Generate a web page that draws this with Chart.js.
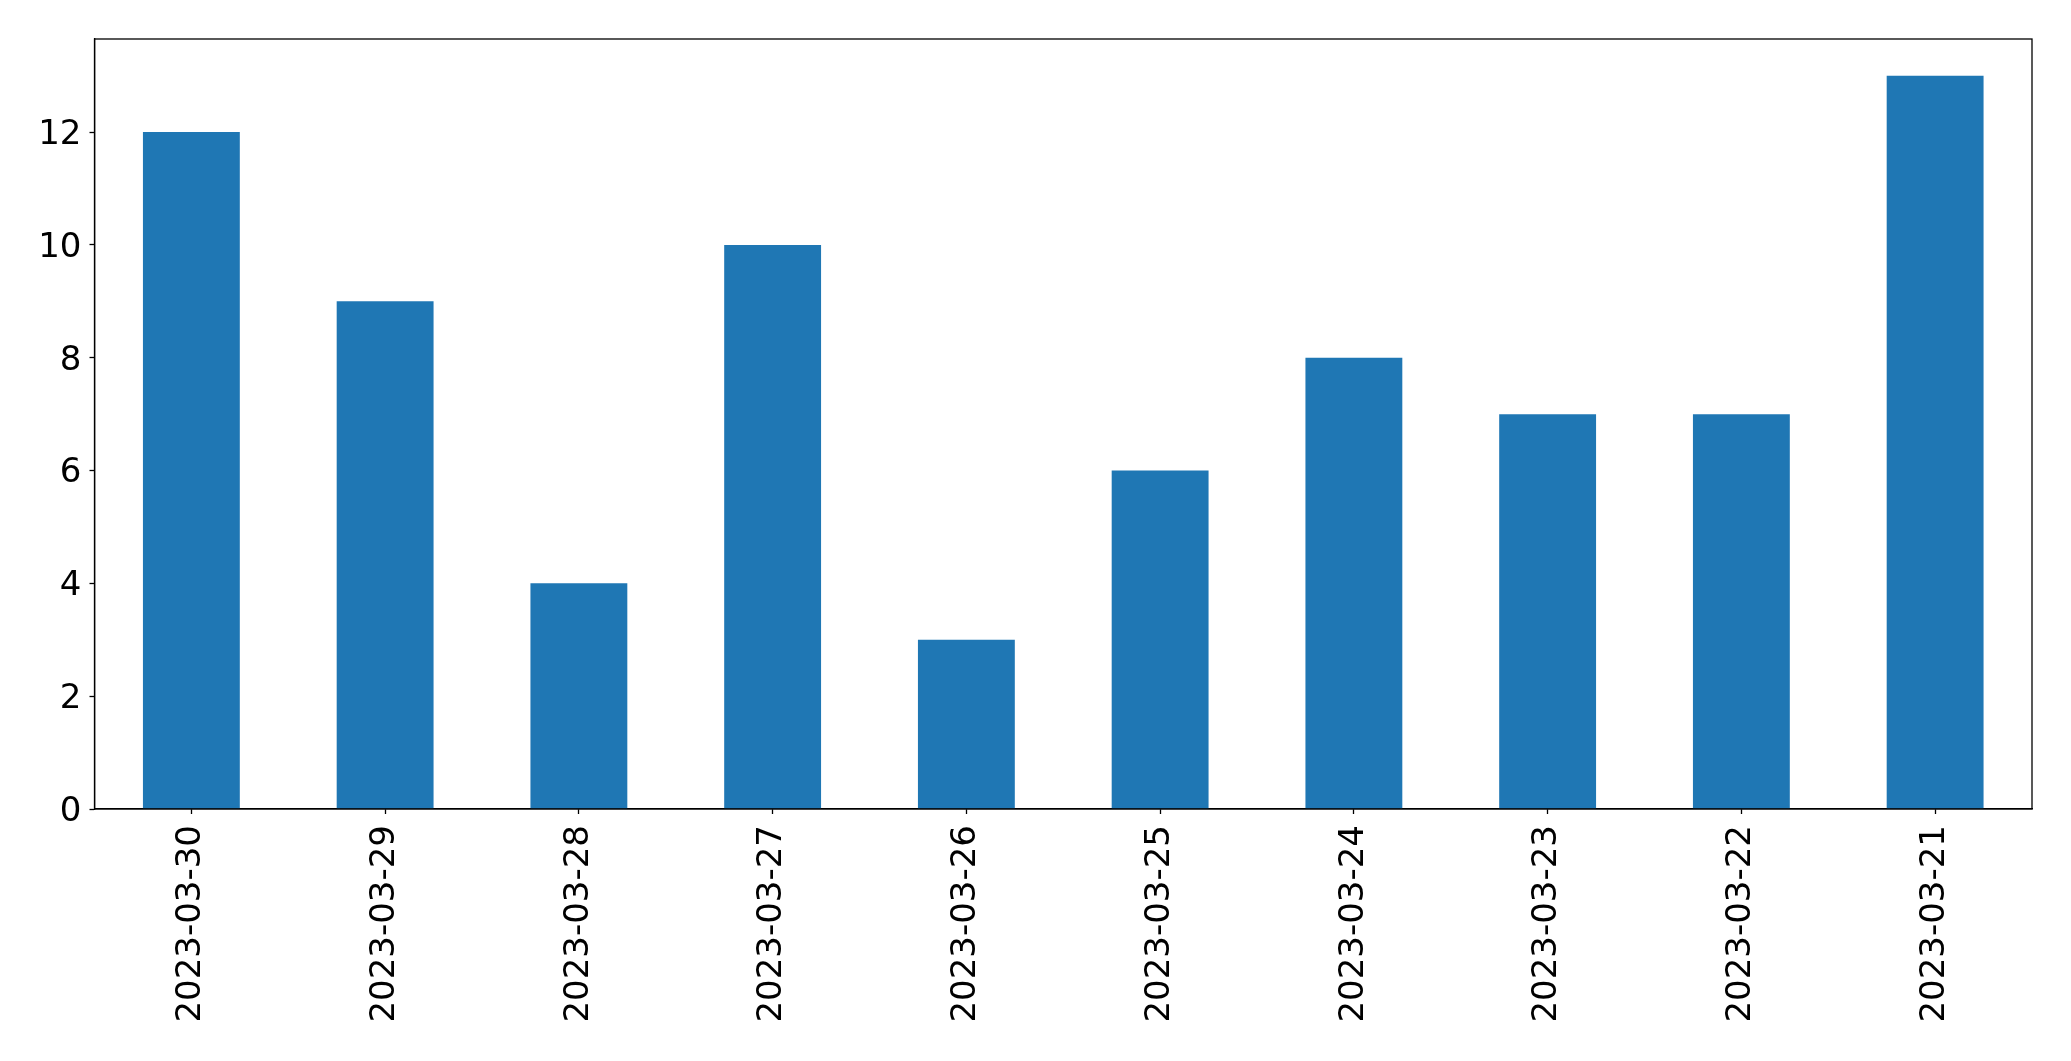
<!DOCTYPE html>
<html>
<head>
<meta charset="utf-8">
<script src="https://cdn.jsdelivr.net/npm/chart.js@4/dist/chart.umd.min.js"></script>
<style>
  html, body { margin: 0; padding: 0; background: #fff; }
  #wrap { width: 2071px; height: 1061px; }
</style>
</head>
<body>
<div id="wrap"><canvas id="c" width="2071" height="1061"></canvas></div>
<script>
const categories = ["2023-03-30","2023-03-29","2023-03-28","2023-03-27","2023-03-26","2023-03-25","2023-03-24","2023-03-23","2023-03-22","2023-03-21"];
const values = [12, 9, 4, 10, 3, 6, 8, 7, 7, 13];
const yTicks = [0, 2, 4, 6, 8, 10, 12];
const yMax = 13.65;

const frame = {
  id: 'frame',
  afterDraw(chart) {
    const a = chart.chartArea, ctx = chart.ctx;
    ctx.save();
    ctx.strokeStyle = '#000';
    ctx.lineWidth = 1.3;
    ctx.strokeRect(a.left, a.top, a.right - a.left, a.bottom - a.top);
    ctx.restore();
  }
};

new Chart(document.getElementById('c'), {
  type: 'bar',
  data: {
    labels: categories,
    datasets: [{
      data: values,
      backgroundColor: '#1f77b4',
      borderWidth: 0,
      categoryPercentage: 0.5,
      barPercentage: 1.0
    }]
  },
  options: {
    responsive: false,
    animation: false,
    devicePixelRatio: 1,
    layout: { padding: { top: 39, right: 39, left: 0, bottom: 0 } },
    plugins: { legend: { display: false }, tooltip: { enabled: false } },
    scales: {
      x: {
        offset: true,
        grid: { display: true, offset: false, drawOnChartArea: false, drawTicks: true, tickLength: 5, tickColor: '#000', tickWidth: 1.3 },
        border: { display: true, color: '#000', width: 1.3 },
        ticks: {
          color: '#000',
          font: { family: 'DejaVu Sans', size: 34 },
          minRotation: 90, maxRotation: 90,
          padding: 11,
          autoSkip: false
        },
        afterFit(s) { s.height = 252; }
      },
      y: {
        min: 0, max: yMax,
        grid: { display: true, drawOnChartArea: false, drawTicks: true, tickLength: 5, tickColor: '#000', tickWidth: 1.3 },
        border: { display: true, color: '#000', width: 1.3 },
        ticks: {
          color: '#000',
          font: { family: 'DejaVu Sans', size: 34 },
          padding: 8,
          labelOffset: 3
        },
        afterBuildTicks(s) { s.ticks = yTicks.map(v => ({ value: v })); },
        afterFit(s) { s.width = 94.5; }
      }
    }
  },
  plugins: [frame]
});
</script>
</body>
</html>
